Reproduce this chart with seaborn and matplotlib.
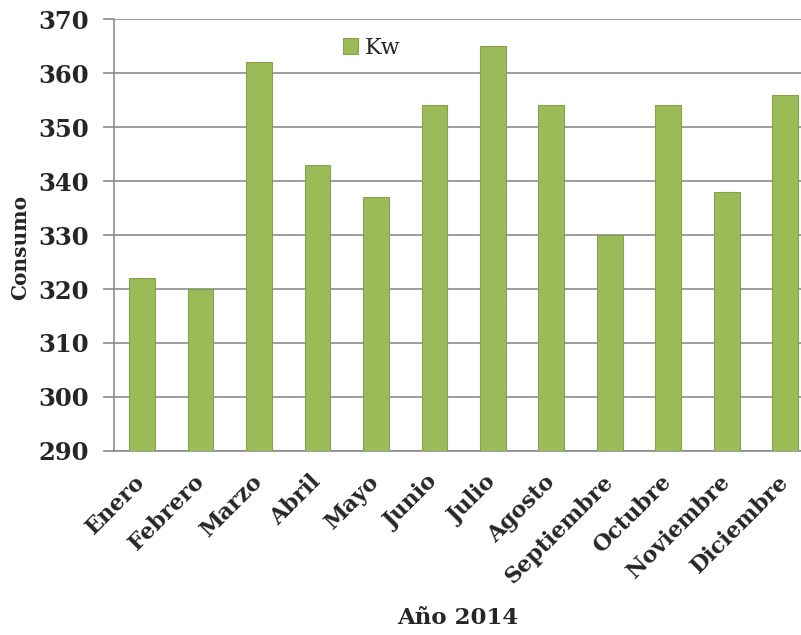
import matplotlib
matplotlib.use("Agg")
import matplotlib.pyplot as plt
import seaborn as sns
import pandas as pd

meses = ["Enero", "Febrero", "Marzo", "Abril", "Mayo", "Junio", "Julio",
         "Agosto", "Septiembre", "Octubre", "Noviembre", "Diciembre"]
consumo_kw = [322, 320, 362, 343, 337, 354, 365, 354, 330, 354, 338, 356]
y_ticks = [290, 300, 310, 320, 330, 340, 350, 360, 370]

df = pd.DataFrame({"Mes": meses, "Kw": consumo_kw})

sns.set_theme(style="white")
plt.rcParams["font.family"] = ["DejaVu Serif"]

fig = plt.figure(figsize=(8.01, 6.35), dpi=100)
ax = fig.add_axes([0.1423, 0.2898, 0.8577, 0.6802])

sns.barplot(data=df, x="Mes", y="Kw", color="#9BBB59", width=0.44,
            edgecolor="#86A34A", linewidth=0.8, saturation=1, ax=ax,
            label="Kw", zorder=3)

ax.set_ylim(290, 370)
ax.set_yticks(y_ticks)
ax.set_xlim(-0.48, 11.27)

ax.yaxis.grid(True, color="#8C8C8C", linewidth=1.2, zorder=0)
ax.set_axisbelow(True)
for side in ["top", "right"]:
    ax.spines[side].set_visible(False)
for side in ["left", "bottom"]:
    ax.spines[side].set_color("#8C8C8C")
    ax.spines[side].set_linewidth(1.2)

ax.tick_params(axis="y", which="major", left=True, length=8, width=1.2,
               color="#8C8C8C", labelsize=17.5, pad=10)
ax.tick_params(axis="x", which="major", bottom=False, labelsize=16, pad=14)
for lbl in ax.get_yticklabels():
    lbl.set_fontweight("bold")
for lbl in ax.get_xticklabels():
    lbl.set_fontweight("bold")
    lbl.set_rotation(45)
    lbl.set_ha("right")
    lbl.set_va("center")
    lbl.set_rotation_mode("anchor")

ax.set_ylabel("Consumo", fontsize=14.5, fontweight="bold")
ax.yaxis.set_label_coords(-0.122, 0.472)
ax.set_xlabel("Año 2014", fontsize=16.5, fontweight="bold", labelpad=14)

ax.legend(loc="center left", bbox_to_anchor=(0.333, 0.933), frameon=False,
          fontsize=16, handlelength=0.7, handleheight=0.7, handletextpad=0.3,
          borderpad=0, borderaxespad=0)

fig.savefig("out.png", dpi=100)
